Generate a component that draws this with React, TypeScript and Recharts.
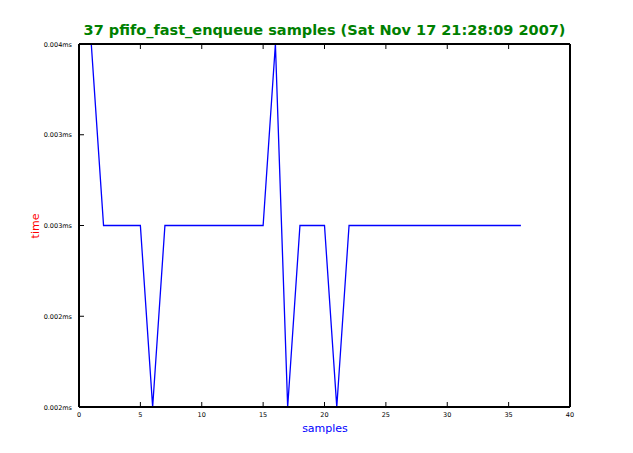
import React from 'react';
import { LineChart, Line, XAxis, YAxis } from 'recharts';

const sampleIndex = [0,1,2,3,4,5,6,7,8,9,10,11,12,13,14,15,16,17,18,19,20,21,22,23,24,25,26,27,28,29,30,31,32,33,34,35,36];
const timeValues = [0.004,0.004,0.003,0.003,0.003,0.003,0.002,0.003,0.003,0.003,0.003,0.003,0.003,0.003,0.003,0.003,0.004,0.002,0.003,0.003,0.003,0.002,0.003,0.003,0.003,0.003,0.003,0.003,0.003,0.003,0.003,0.003,0.003,0.003,0.003,0.003,0.003];
const xTicks = [0,5,10,15,20,25,30,35,40];
const yTicks = [0.002,0.0025,0.003,0.0035,0.004];
const yTickLabels = ['0.002ms','0.002ms','0.003ms','0.003ms','0.004ms'];
const title = '37 pfifo_fast_enqueue samples (Sat Nov 17 21:28:09 2007)';

const data = sampleIndex.map((s, i) => ({ s, t: timeValues[i] }));
const FONT = 'DejaVu Sans, sans-serif';

const BottomTick = (p: any) => (
  <g>
    <line x1={p.x} x2={p.x} y1={p.y} y2={p.y - 5} stroke="#000" strokeWidth={1} />
    <text x={p.x} y={p.y + 10} textAnchor="middle" fontSize={6.5} fontFamily={FONT} fill="#000">{p.payload.value}</text>
  </g>
);
const TopTick = (p: any) => (
  <line x1={p.x} x2={p.x} y1={p.y} y2={p.y + 5} stroke="#000" strokeWidth={1} />
);
const LeftTick = (p: any) => {
  const idx = yTicks.indexOf(p.payload.value);
  return (
    <g>
      <line x1={p.x} x2={p.x + 5} y1={p.y} y2={p.y} stroke="#000" strokeWidth={1} />
      <text x={p.x - 7} y={p.y + 2.5} textAnchor="end" fontSize={6.5} fontFamily={FONT} fill="#000">{yTickLabels[idx]}</text>
    </g>
  );
};
const RightTick = (p: any) => (
  <line x1={p.x} x2={p.x - 5} y1={p.y} y2={p.y} stroke="#000" strokeWidth={1} />
);

const axisLine = { stroke: '#000', strokeWidth: 2 };

export default function App() {
  return (
    <div style={{ position: 'absolute', left: 0, top: 0, width: 633, height: 453, background: '#fff' }}>
      <LineChart width={633} height={453} data={data} margin={{ top: 43, right: 62, bottom: 45, left: 78 }}>
        <XAxis xAxisId="b" dataKey="s" type="number" domain={[0, 40]} ticks={xTicks} orientation="bottom" height={1}
          tickSize={0} tickMargin={0} tickLine={false} axisLine={axisLine} tick={<BottomTick />} interval={0} />
        <XAxis xAxisId="t" dataKey="s" type="number" domain={[0, 40]} ticks={xTicks} orientation="top" height={1}
          tickSize={0} tickMargin={0} tickLine={false} axisLine={axisLine} tick={<TopTick />} interval={0} />
        <YAxis yAxisId="l" type="number" domain={[0.002, 0.004]} ticks={yTicks} orientation="left" width={1}
          tickSize={0} tickMargin={0} tickLine={false} axisLine={axisLine} tick={<LeftTick />} interval={0} />
        <YAxis yAxisId="r" type="number" domain={[0.002, 0.004]} ticks={yTicks} orientation="right" width={1}
          tickSize={0} tickMargin={0} tickLine={false} axisLine={axisLine} tick={<RightTick />} interval={0} />
        <Line xAxisId="b" yAxisId="l" dataKey="t" stroke="#0000ff" strokeWidth={1.3} dot={false} isAnimationActive={false} type="linear" />
        <text x={324.5} y={35} textAnchor="middle" fontSize={14.5} fontWeight="bold" fontFamily={FONT} fill="#008000">{title}</text>
        <text x={325} y={432} textAnchor="middle" fontSize={11} fontFamily={FONT} fill="#0000ff">samples</text>
        <text x={39} y={226} textAnchor="middle" fontSize={11} fontFamily={FONT} fill="#ff0000" transform="rotate(-90 39 226)">time</text>
      </LineChart>
    </div>
  );
}
